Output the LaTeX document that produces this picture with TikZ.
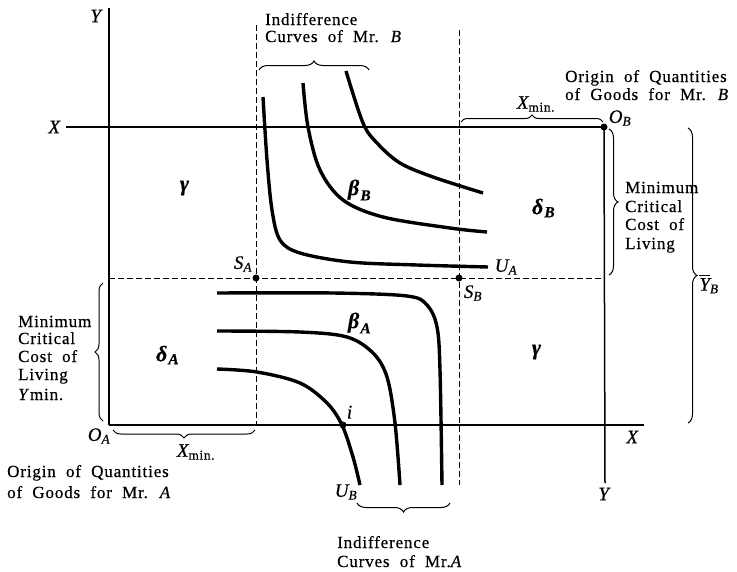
\documentclass[tikz,border=0pt]{standalone}
\usepackage{amsmath}
\usepackage{fontspec}
\setmainfont{Liberation Serif}[LetterSpace=5,WordSpace=2.0,FakeBold=0.5]
\usetikzlibrary{decorations.pathreplacing}
\newcommand{\vi}[1]{\textit{#1}}
\newcommand{\bi}[1]{\textbf{\textit{#1}}}
\begin{document}
\begin{tikzpicture}[x=1pt,y=-1pt,
  axis/.style={line width=1.5pt},
  dsh/.style={line width=1pt, dash pattern=on 5.5pt off 3.5pt},
  curve/.style={line width=3.4pt},
  brc/.style={decorate, decoration={brace, amplitude=#1}, line width=1pt},
  lbl/.style={font=\fontsize{19}{21}\selectfont, inner sep=0pt},
  grk/.style={font=\fontsize{22}{24}\selectfont, inner sep=0pt},
  txt/.style={font=\fontsize{17}{18.5}\selectfont, inner sep=0pt, anchor=base west},
  dot/.style={circle, fill, inner sep=0pt, minimum size=7pt}]
\useasboundingbox (0,0) rectangle (737,571);

% key points
\coordinate (OA) at (109,425);
\coordinate (YAtop) at (109,8);
\coordinate (XBleft) at (66,127);
\coordinate (XAright) at (644,425);
\coordinate (YBbot) at (605,483);
\coordinate (dl) at (109,278);
\coordinate (dr) at (605,278);
\coordinate (va1) at (256,25);
\coordinate (va2) at (256,425);
\coordinate (vb1) at (459,30);
\coordinate (vb2) at (459,485);

% dashed lines
\draw[dsh] (dl) -- (dr);
\draw[dsh] (va1) -- (va2);
\draw[dsh] (vb1) -- (vb2);

% axes
\coordinate (OBc) at (604,127);
\draw[axis] (OA) -- (YAtop);
\draw[axis] (XBleft) -- (OBc);
\draw[axis] (OA) -- (XAright);
\draw[axis] (OBc) -- (YBbot);

% indifference curves of Mr. B
\draw[curve] plot[smooth, tension=0.55] coordinates {(263,97) (267,160) (272,210) (280,240) (300,253) (350,262) (417,265) (488,267)};
\draw[curve] plot[smooth, tension=0.55] coordinates {(303,83) (308,127) (320,170) (343,200) (383,217) (450,228) (487,232)};
\draw[curve] plot[smooth, tension=0.55] coordinates {(346,71) (363,123) (377,143) (400,163) (433,177) (483,193)};

% indifference curves of Mr. A
\draw[curve] plot[smooth, tension=0.55] coordinates {(217,293) (333,293) (407,296) (427,305) (437,327) (440,370) (442,485)};
\draw[curve] plot[smooth, tension=0.55] coordinates {(217,331) (300,332) (347,337) (373,353) (387,377) (395,423) (400,485)};
\draw[curve] plot[smooth, tension=0.55] coordinates {(217,369) (257,372) (300,383) (327,403) (342,425) (353,457) (360,485)};

% dots
\node[dot] (OB) at (OBc) {};
\node[dot] (SA) at (256,278) {};
\node[dot] (SB) at (459,278) {};
\node[dot] (I) at (343,425) {};

% braces
\draw[brc=9] (259,70) -- (369,70);
\draw[brc=7] (461,122) -- (603,122);
\draw[brc=9] (609,129) -- (609,275);
\draw[brc=9] (688,128) -- (688,423);
\draw[brc=8] (103,421) -- (103,283);
\draw[brc=8] (255,430) -- (113,430);
\draw[brc=9] (450,503) -- (357,503);

% axis labels
\node[lbl] (lYA) at (97,16) {\vi{Y}};
\node[lbl] (lXB) at (55,127) {\vi{X}};
\node[lbl] (lXA) at (633,437) {\vi{X}};
\node[lbl] (lYB) at (605,494) {\vi{Y}};

% point labels
\node[lbl] (lOB) at (620,118) {$\vi{O}_{\vi{B}}$};
\node[lbl] (lOA) at (99,436) {$\vi{O}_{\vi{A}}$};
\node[lbl] (lSA) at (243,264) {$\vi{S}_{\vi{A}}$};
\node[lbl] (lSB) at (473,293) {$\vi{S}_{\vi{B}}$};
\node[lbl] (lI) at (350,412) {\vi{i}};
\node[lbl] (lUA) at (506,267) {$\vi{U}_{\vi{A}}$};
\node[lbl] (lUB) at (346,492) {$\vi{U}_{\vi{B}}$};
\node[lbl] (lXm1) at (536,104) {$\vi{X}_{\textup{min.}}$};
\node[lbl] (lXm2) at (196,452) {$\vi{X}_{\textup{min.}}$};
\node[lbl] (lYbar) at (709,284) {$\overline{\vi{Y}}_{\vi{B}}$};

% region labels
\node[grk] (g1) at (185,188) {\bi{γ}};
\node[grk] (bB) at (360,190) {$\bi{β}_{\bi{B}}$};
\node[grk] (dB) at (544,208) {$\bi{δ}_{\bi{B}}$};
\node[grk] (bA) at (360,323) {$\bi{β}_{\bi{A}}$};
\node[grk] (dA) at (168,355) {$\bi{δ}_{\bi{A}}$};
\node[grk] (g2) at (537,352) {\bi{γ}};

% texts
\node[txt] (t1a) at (265,25) {Indifference};
\node[txt] (t1b) at (265,42) {Curves of Mr. \vi{B}};
\node[txt] (t2a) at (565,82) {Origin of Quantities};
\node[txt] (t2b) at (565,100) {of Goods for Mr. \vi{B}};
\node[txt] (t3a) at (625,193) {Minimum};
\node[txt] (t3b) at (625,212) {Critical};
\node[txt] (t3c) at (625,230) {Cost of};
\node[txt] (t3d) at (625,249) {Living};
\node[txt] (t4a) at (18,327) {Minimum};
\node[txt] (t4b) at (18,344) {Critical};
\node[txt] (t4c) at (18,362) {Cost of};
\node[txt] (t4d) at (18,380) {Living};
\node[txt] (t4e) at (18,400) {\vi{Y}min.};
\node[txt] (t5a) at (7,477) {Origin of Quantities};
\node[txt] (t5b) at (7,498) {of Goods for Mr. \vi{A}};
\node[txt] (t6a) at (337,548) {Indifference};
\node[txt] (t6b) at (337,567) {Curves of Mr.\vi{A}};
\end{tikzpicture}
\end{document}
